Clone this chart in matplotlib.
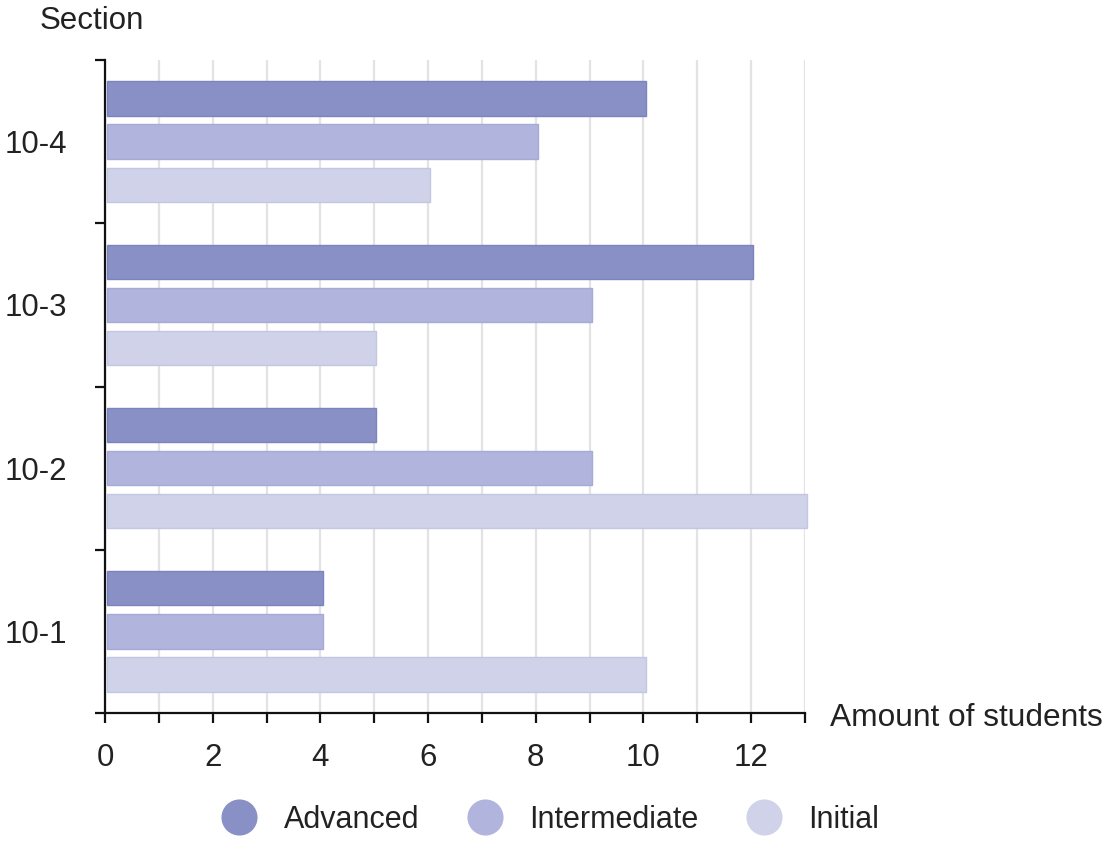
import matplotlib
matplotlib.use("Agg")
import matplotlib.pyplot as plt
from matplotlib.lines import Line2D
import numpy as np

plt.rcParams['font.family'] = ['Liberation Sans', 'DejaVu Sans']

sections = ["10-1", "10-2", "10-3", "10-4"]
series = ["Advanced", "Intermediate", "Initial"]
advanced = [4, 5, 12, 10]
intermediate = [4, 9, 9, 8]
initial = [10, 13, 5, 6]
values = [advanced, intermediate, initial]
x_ticks = list(range(0, 14))
x_labels = [str(v) if v % 2 == 0 else "" for v in x_ticks]

fills = ["#8890c6", "#b1b4dc", "#d0d2e9"]
edges = ["#7c84be", "#a6aad6", "#c4c7e3"]
offsets = [0.264, 0.0, -0.264]
bar_h = 0.21

fig = plt.figure(figsize=(11.19, 8.5), dpi=100)
ax = fig.add_axes([105/1119, 1-713/850, 700/1119, 653/850])

centers = np.arange(len(sections)) + 0.5
for vals, fc, ec, off, name in zip(values, fills, edges, offsets, series):
    bars = ax.barh(centers + off, vals, height=bar_h, left=0.04, color=fc, edgecolor=ec,
                   linewidth=1.0, zorder=3, label=name)
    for b in bars:
        b.set_clip_on(False)

ax.set_xlim(0, 13)
ax.set_ylim(0, 4)
ax.set_xticks(x_ticks)
ax.set_xticklabels(x_labels)
ax.set_yticks(centers)
ax.set_yticklabels(sections)
ax.set_yticks(np.arange(0, 5), minor=True)
ax.tick_params(axis='y', which='major', length=0, pad=27, labelsize=22.5, colors='#222222')
ax.tick_params(axis='y', which='minor', length=7.5, width=1.6, direction='out', color='#111111')
ax.tick_params(axis='x', which='major', length=7.5, width=1.6, direction='out', pad=14,
               labelsize=22.5, colors='#111111', labelcolor='#222222')
for s in ['top', 'right']:
    ax.spines[s].set_visible(False)
for s in ['left', 'bottom']:
    ax.spines[s].set_linewidth(1.6)
    ax.spines[s].set_color('#111111')
ax.spines['bottom'].set_zorder(5)
ax.spines['left'].set_zorder(5)
ax.set_axisbelow(True)
ax.xaxis.grid(True, color='#e3e3e3', linewidth=1.6, zorder=0)
ax.yaxis.grid(False)

fig.text(40/1119, 1-21/850, "Section", fontsize=22.5, color='#222222', va='center', ha='left')
fig.text(830/1119, 1-718/850, "Amount of students", fontsize=22.8, color='#222222',
         va='center', ha='left')

handles = [Line2D([0], [0], marker='o', linestyle='none', markersize=26,
                  markerfacecolor=c, markeredgecolor='none') for c in fills]
fig.legend(handles, series, loc='center', bbox_to_anchor=(550/1119, 1-820/850), ncol=3,
           frameon=False, fontsize=22, handletextpad=0.85, columnspacing=1.55,
           handlelength=1.2, labelcolor='#222222')

fig.savefig("out.png", dpi=100)
